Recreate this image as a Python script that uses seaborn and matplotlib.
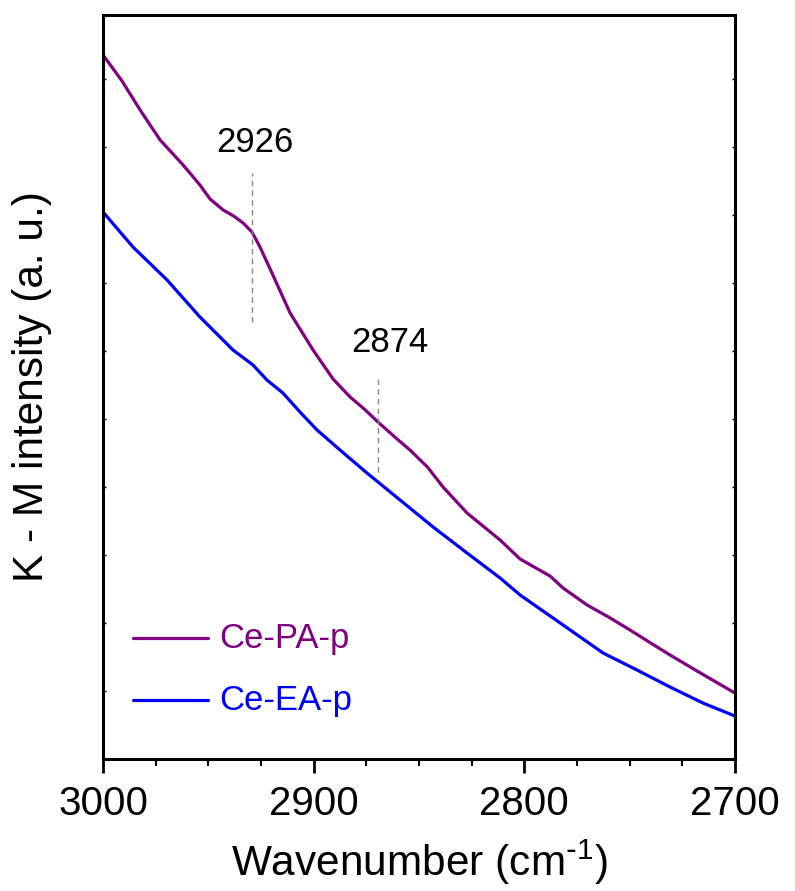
import numpy as np
import pandas as pd
import matplotlib
matplotlib.use("Agg")
import matplotlib.pyplot as plt
import seaborn as sns
from matplotlib.ticker import MultipleLocator

# --------------------------
# Data (K-M intensity, arbitrary units)
# --------------------------
pa_wavenumber = [3000.0, 2991.0, 2982.4, 2972.9, 2962.0, 2954.0, 2949.2, 2943.0, 2938.0,
                 2933.5, 2929.3, 2925.5, 2919.8, 2911.2, 2900.3, 2890.8, 2882.7, 2876.0,
                 2869.5, 2860.4, 2854.3, 2846.0, 2838.6, 2827.2, 2811.5, 2802.0, 2787.8,
                 2781.6, 2770.2, 2760.0, 2749.8, 2740.0, 2730.8, 2718.0, 2700.0]
pa_intensity = [7.04, 6.78, 6.49, 6.19, 5.94, 5.74, 5.60, 5.49, 5.43,
                5.36, 5.27, 5.12, 4.86, 4.46, 4.09, 3.80, 3.62, 3.50,
                3.37, 3.20, 3.09, 2.92, 2.72, 2.46, 2.19, 2.00, 1.83,
                1.71, 1.54, 1.42, 1.29, 1.16, 1.04, 0.88, 0.66]

ea_wavenumber = [3000.0, 2985.8, 2969.6, 2954.0, 2938.3, 2928.8, 2922.2, 2914.6, 2906.5,
                 2898.4, 2887.5, 2874.7, 2859.0, 2843.3, 2827.2, 2811.5, 2802.0, 2781.6,
                 2762.6, 2746.5, 2730.8, 2715.2, 2700.0]
ea_intensity = [5.47, 5.12, 4.79, 4.42, 4.09, 3.94, 3.79, 3.66, 3.47,
                3.29, 3.09, 2.86, 2.59, 2.32, 2.06, 1.81, 1.64, 1.34,
                1.06, 0.89, 0.72, 0.56, 0.43]

sample_names = ["Ce-PA-p", "Ce-EA-p"]
sample_colors = ["#800080", "#0000FF"]

# peak markers: label, x of dashed line, y range of dashed line, label position
peak_labels = ["2926", "2874"]
peak_x = [2929.3, 2869.5]
peak_y0 = [4.37, 2.87]
peak_y1 = [5.86, 3.84]
peak_text_x = [2927.9, 2863.8]
peak_text_y = [6.16, 4.17]

# --------------------------
# Build long-form table
# --------------------------
df = pd.concat([
    pd.DataFrame({"Wavenumber": pa_wavenumber, "Intensity": pa_intensity, "Sample": sample_names[0]}),
    pd.DataFrame({"Wavenumber": ea_wavenumber, "Intensity": ea_intensity, "Sample": sample_names[1]}),
])

sns.set_style("ticks")
plt.rcParams["font.family"] = ["Liberation Sans", "DejaVu Sans"]
plt.rcParams["mathtext.default"] = "regular"
plt.rcParams["text.color"] = "black"
plt.rcParams["axes.labelcolor"] = "black"
plt.rcParams["xtick.color"] = "black"
plt.rcParams["ytick.color"] = "black"

fig = plt.figure(figsize=(7.95, 8.91), dpi=100)
ax = fig.add_axes([0.1296, 0.1481, 0.7949, 0.8351])

sns.lineplot(data=df, x="Wavenumber", y="Intensity", hue="Sample",
             palette=dict(zip(sample_names, sample_colors)), linewidth=2.3,
             sort=False, ax=ax, legend=False)

# dashed peak markers
for lab, px, y0, y1, tx, ty in zip(peak_labels, peak_x, peak_y0, peak_y1, peak_text_x, peak_text_y):
    ax.plot([px, px], [y0, y1], ls=(0, (4, 3)), color="#888888", lw=1.0)
    ax.text(tx, ty, lab, ha="center", va="center", fontsize=25)

ax.set_xlim(3000, 2700)
ax.set_ylim(0, 7.44)

ax.xaxis.set_major_locator(MultipleLocator(100))
ax.xaxis.set_minor_locator(MultipleLocator(25))
ax.yaxis.set_major_locator(MultipleLocator(0.68))

ax.tick_params(axis="x", which="major", direction="out", length=10, width=2,
               labelsize=29, pad=9)
ax.tick_params(axis="x", which="minor", direction="out", length=5, width=1.5)
ax.tick_params(axis="y", which="both", direction="in", length=2, width=1,
               left=True, right=True, labelleft=False)

for sp in ax.spines.values():
    sp.set_visible(True)
    sp.set_linewidth(2.2)
    sp.set_color("black")

ax.set_xlabel("Wavenumber (cm$^{\\text{-}1}$)", fontsize=30.5, labelpad=10)
ax.set_ylabel("K - M intensity (a. u.)", fontsize=30.5)
ax.yaxis.set_label_coords(-0.08, 0.5)

# legend drawn as in the original: short line + coloured text
legend_y = [1.21, 0.59]
for name, col, ly in zip(sample_names, sample_colors, legend_y):
    ax.plot([2986, 2950], [ly, ly], color=col, lw=2.3)
    ax.text(2945, ly, name, color=col, fontsize=25, ha="left", va="center")

fig.savefig("out.png", dpi=100)
